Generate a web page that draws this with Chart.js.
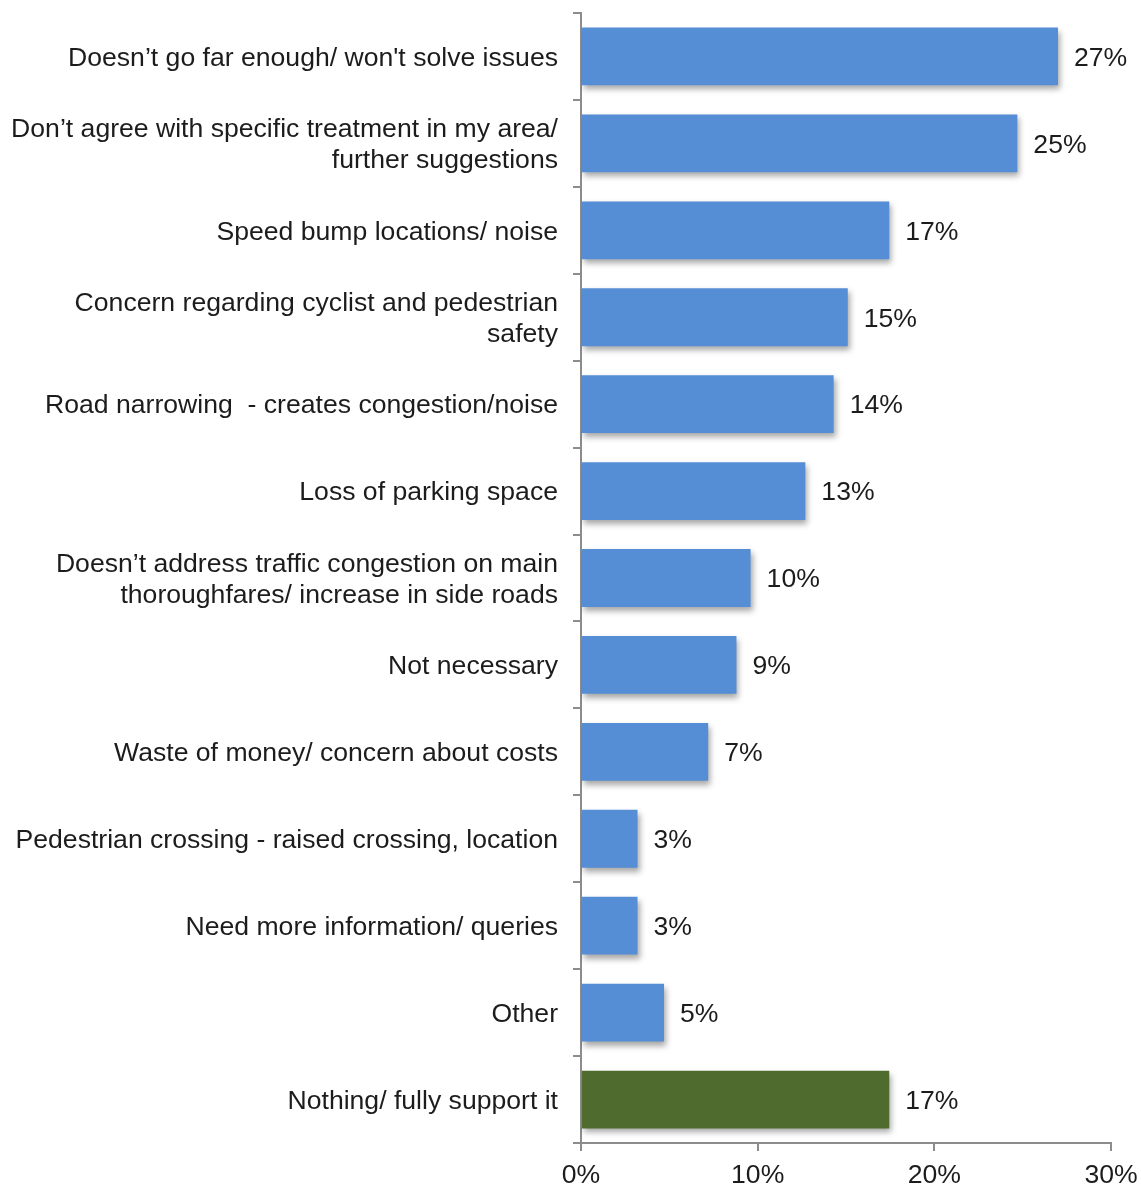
<!DOCTYPE html>
<html>
<head>
<meta charset="utf-8">
<script src="https://cdn.jsdelivr.net/npm/chart.js@4/dist/chart.umd.min.js"></script>
<style>
  html, body { margin: 0; padding: 0; background: #fff; }
  #wrap { width: 1141px; height: 1188px; }
</style>
</head>
<body>
<div id="wrap"><canvas id="myChart"></canvas></div>
<script>
const categories = [
    "Doesn’t go far enough/ won't solve issues",
    ["Don’t agree with specific treatment in my area/", "further suggestions"],
    "Speed bump locations/ noise",
    ["Concern regarding cyclist and pedestrian", "safety"],
    "Road narrowing  - creates congestion/noise",
    "Loss of parking space",
    ["Doesn’t address traffic congestion on main", "thoroughfares/ increase in side roads"],
    "Not necessary",
    "Waste of money/ concern about costs",
    "Pedestrian crossing - raised crossing, location",
    "Need more information/ queries",
    "Other",
    "Nothing/ fully support it"
];
// share of responses, percent
const values = [27.0, 24.7, 17.45, 15.1, 14.3, 12.7, 9.6, 8.8, 7.2, 3.2, 3.2, 4.7, 17.45];
const xTicks = [0, 10, 20, 30];

const blue = '#558ED5';
const green = '#4F6B2E';
const barColors = categories.map((c, i) => i === categories.length - 1 ? green : blue);

const axisGray = '#8C8C8C';
const textColor = '#1c1c1c';
const font = { family: 'Liberation Sans, Arial, sans-serif', size: 26.6 };

// soft drop shadow under the bars
const barShadow = {
    id: 'barShadow',
    beforeDatasetsDraw(chart) {
        const ctx = chart.ctx;
        ctx.save();
        ctx.shadowColor = 'rgba(0,0,0,0.35)';
        ctx.shadowBlur = 6;
        ctx.shadowOffsetX = 2;
        ctx.shadowOffsetY = 4;
    },
    afterDatasetsDraw(chart) {
        chart.ctx.restore();
    }
};

// percentage written to the right of each bar
const valueLabels = {
    id: 'valueLabels',
    afterDatasetsDraw(chart) {
        const ctx = chart.ctx;
        const meta = chart.getDatasetMeta(0);
        ctx.save();
        ctx.font = font.size + 'px ' + font.family;
        ctx.fillStyle = textColor;
        ctx.textAlign = 'left';
        ctx.textBaseline = 'middle';
        meta.data.forEach((bar, i) => {
            ctx.fillText(Math.round(values[i]) + '%', bar.x + 16, bar.y + 2);
        });
        ctx.restore();
    }
};

const ctx = document.getElementById('myChart').getContext('2d');
const myChart = new Chart(ctx, {
    type: 'bar',
    data: {
        labels: categories,
        datasets: [{
            data: values,
            backgroundColor: barColors,
            borderWidth: 0,
            barPercentage: 0.665,
            categoryPercentage: 1.0
        }]
    },
    options: {
        indexAxis: 'y',
        responsive: true,
        maintainAspectRatio: false,
        animation: false,
        layout: { padding: { left: 0, top: 13, right: 30, bottom: 0 } },
        plugins: {
            legend: { display: false },
            tooltip: { enabled: false }
        },
        scales: {
            x: {
                min: 0,
                max: 30,
                afterBuildTicks: (scale) => { scale.ticks = xTicks.map(v => ({ value: v })); },
                afterFit: (scale) => {
                    scale.height = 45;
                    scale.paddingLeft = 0;
                    scale.paddingRight = 0;
                },
                border: { color: axisGray, width: 2 },
                grid: { drawOnChartArea: false, drawTicks: true, tickLength: 8, color: axisGray, lineWidth: 2 },
                ticks: {
                    color: textColor,
                    font: font,
                    padding: 9,
                    maxRotation: 0,
                    callback: (v) => v + '%'
                }
            },
            y: {
                afterFit: (scale) => {
                    scale.width = 581;
                    scale.paddingTop = 0;
                    scale.paddingBottom = 0;
                },
                border: { color: axisGray, width: 2 },
                grid: { drawOnChartArea: false, drawTicks: true, tickLength: 8, color: axisGray, lineWidth: 2, offset: true },
                ticks: {
                    color: textColor,
                    font: { family: font.family, size: font.size, lineHeight: 1.16 },
                    padding: 15,
                    labelOffset: 2,
                    autoSkip: false
                }
            }
        }
    },
    plugins: [barShadow, valueLabels]
});
</script>
</body>
</html>
